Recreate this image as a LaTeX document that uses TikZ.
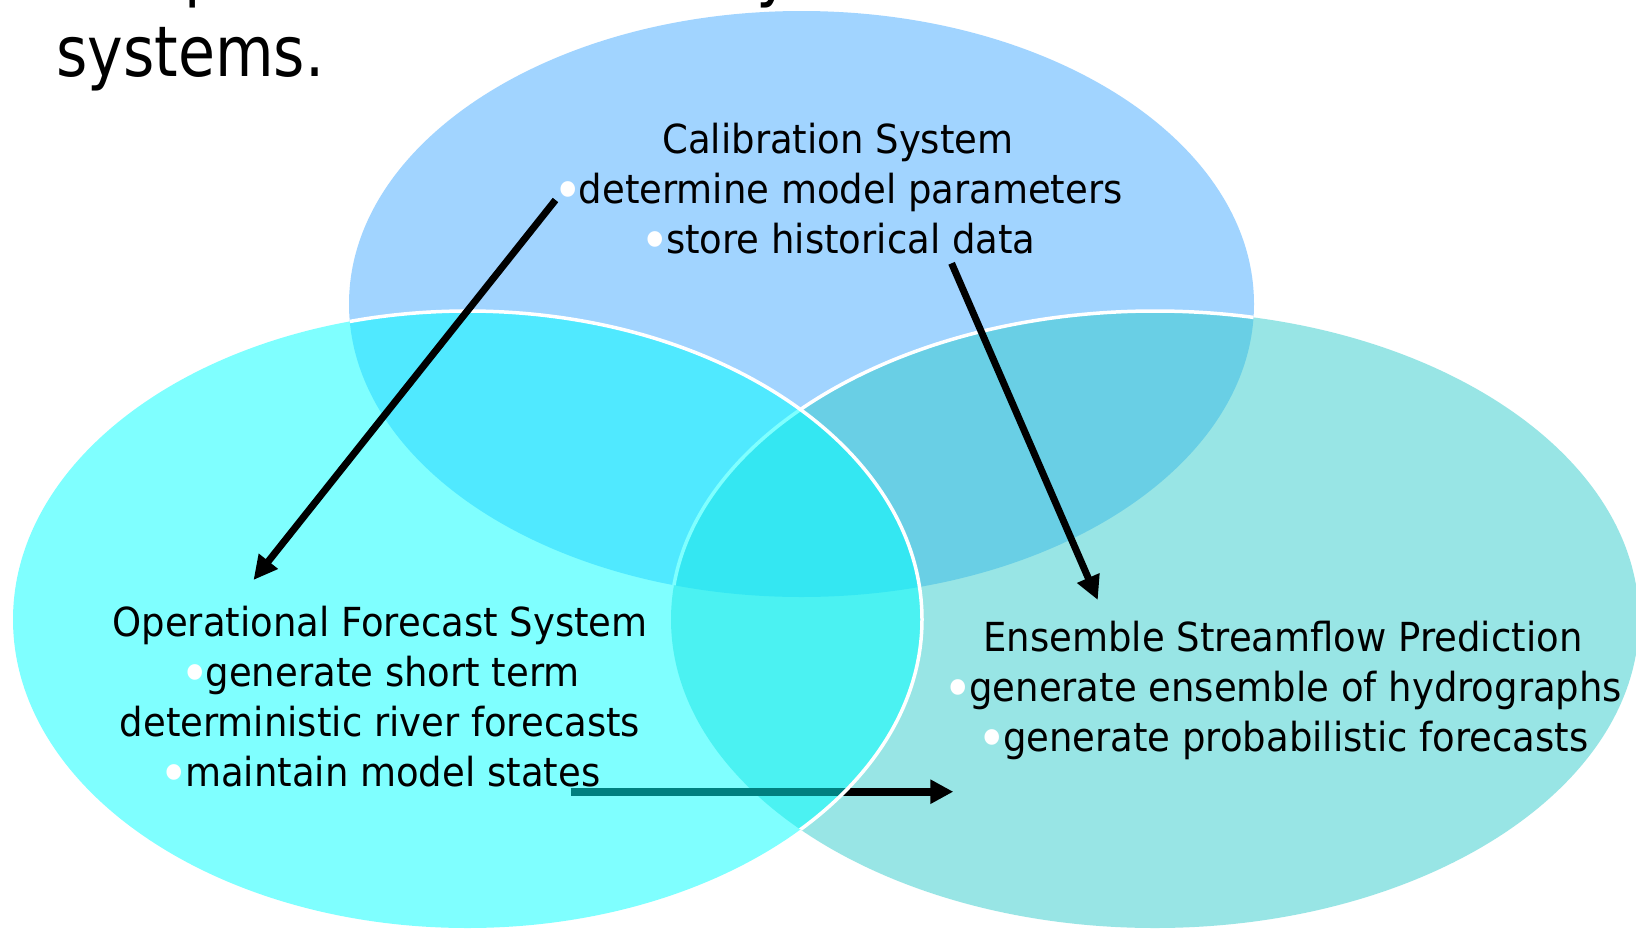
\documentclass[tikz,border=0pt]{standalone}
\usepackage{fontspec}
\usepackage{graphicx}
\usetikzlibrary{arrows.meta}
\newfontfamily\bodyfont[FakeStretch=0.925]{DejaVu Sans}
\newfontfamily\titlefont[FakeStretch=0.86]{DejaVu Sans}
\definecolor{calblue}{HTML}{44AAFF}
\definecolor{opcyan}{HTML}{00FFFF}
\definecolor{espteal}{HTML}{33CCCC}
\newcommand{\wbul}{\raisebox{-6pt}{\textcolor{white}{\scalebox{1.35}{•}}}\kern-4pt}
\begin{document}
\begin{tikzpicture}[x=1pt,y=-1pt,
  blk/.style={align=center, inner sep=0pt, anchor=base, font=\bodyfont\fontsize{40}{50}\selectfont},
  ttl/.style={inner sep=0pt, anchor=base west, font=\titlefont\fontsize{70}{84}\selectfont},
  conn/.style={line width=7pt, -{Triangle[length=24pt,width=23pt]}},
  hconn/.style={line width=8pt, -{Triangle[length=23pt,width=23pt]}},
  rim/.style={draw=white, line width=3.5pt},
  halfop/.style={fill opacity=0.5}
  ]
\useasboundingbox (0,0) rectangle (1636,930);
\fill[white] (0,0) rectangle (1636,930);

% top ellipse (Calibration)
\fill[calblue, halfop] (801.5,304) ellipse [x radius=452.5pt, y radius=293pt];
% right ellipse (ESP)
\fill[espteal, halfop] (1155,619.5) ellipse [x radius=484pt, y radius=308.5pt];
\begin{scope}
  \clip (801.5,304) ellipse [x radius=452.5pt, y radius=293pt];
  \draw[rim] (1155,619.5) ellipse [x radius=484pt, y radius=308.5pt];
\end{scope}

% connector under the left ellipse
\coordinate (c3s) at (570.7,791.7);
\coordinate (c3e) at (953.3,791.7);
\draw[hconn] (c3s) -- (c3e);

% left ellipse (Operational)
\fill[opcyan, halfop] (467.5,619.5) ellipse [x radius=454.5pt, y radius=308.5pt];
\begin{scope}
  \clip (-10,-10) rectangle (1646,837);
  \clip (801.5,304) ellipse [x radius=452.5pt, y radius=293pt]
        (1155,619.5) ellipse [x radius=484pt, y radius=308.5pt];
  \draw[rim] (467.5,619.5) ellipse [x radius=454.5pt, y radius=308.5pt];
\end{scope}

% diagonal connectors
\coordinate (c1s) at (555.5,200);
\coordinate (c1e) at (253.5,580);
\coordinate (c2s) at (951.6,263.3);
\coordinate (c2e) at (1097.8,600);
\draw[conn] (c1s) -- (c1e);
\draw[conn] (c2s) -- (c2e);

% texts
\node[ttl] (fragp) at (184,-7) {p};
\node[ttl] (fragy) at (756,-7) {y};
\node[ttl] (title) at (56,76) {systems.};

\node[blk] (cal) at (838,253.3) {Calibration System\\\wbul determine model parameters\\\wbul store historical data};
\node[blk] (ops) at (380,786) {Operational Forecast System\\\wbul generate short term\\deterministic river forecasts\\\wbul maintain model states};
\node[blk] (esp) at (1283,751) {Ensemble Streamflow Prediction\\\wbul generate ensemble of hydrographs\\\wbul generate probabilistic forecasts};
\end{tikzpicture}
\end{document}
